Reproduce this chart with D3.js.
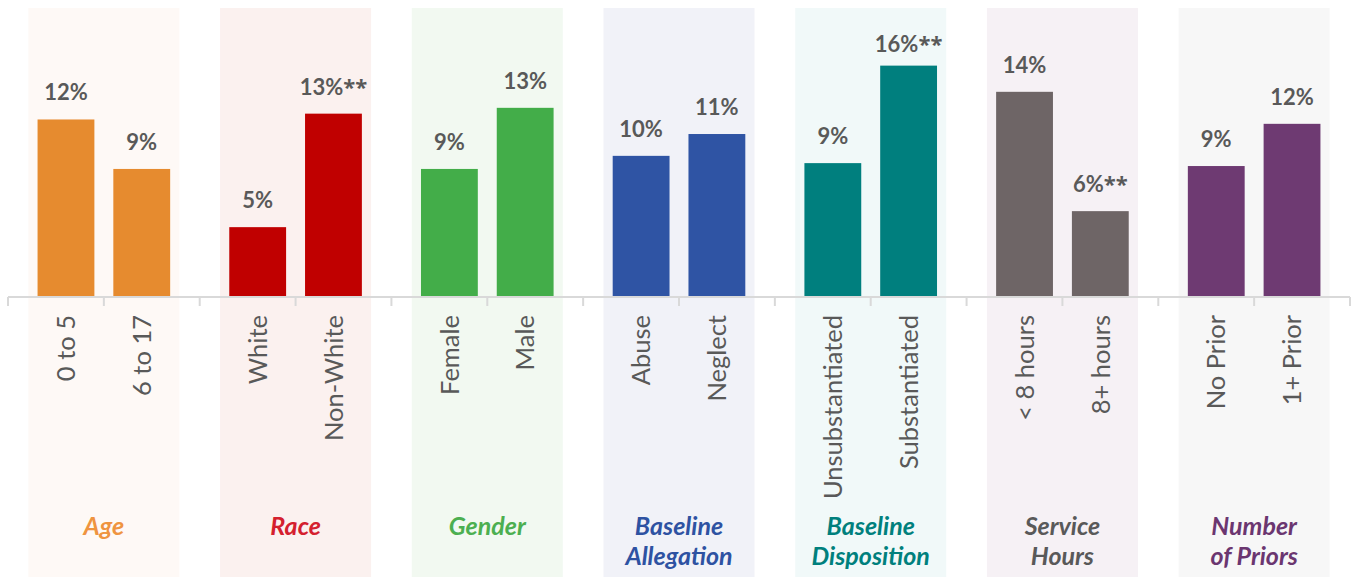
<!DOCTYPE html>
<html>
<head>
<meta charset="utf-8">
<script src="https://cdn.jsdelivr.net/npm/d3@7"></script>
<style>
  html, body { margin: 0; padding: 0; background: #ffffff; }
  svg { display: block; }
</style>
</head>
<body>
<svg id="chart" width="1351" height="577"></svg>
<script>
// ---- data ----
const groups = ["Age", "Race", "Gender", "Baseline Allegation", "Baseline Disposition", "Service Hours", "Number of Priors"];
const groupTitleLines = [["Age"], ["Race"], ["Gender"], ["Baseline", "Allegation"], ["Baseline", "Disposition"], ["Service", "Hours"], ["Number", "of Priors"]];
const categories = ["0 to 5", "6 to 17", "White", "Non-White", "Female", "Male", "Abuse", "Neglect",
                    "Unsubstantiated", "Substantiated", "< 8 hours", "8+ hours", "No Prior", "1+ Prior"];
const categoryGroup = [0, 0, 1, 1, 2, 2, 3, 3, 4, 4, 5, 5, 6, 6];
const values = [12.2, 8.8, 4.8, 12.6, 8.8, 13.0, 9.7, 11.2, 9.2, 15.9, 14.1, 5.9, 9.0, 11.9];
const valueLabels = ["12%", "9%", "5%", "13%**", "9%", "13%", "10%", "11%", "9%", "16%**", "14%", "6%**", "9%", "12%"];

// ---- styles ----
const barColors   = ["#E68B2F", "#C00000", "#43AD49", "#2F54A4", "#007F7E", "#6E6566", "#6E3A72"];
const titleColors = ["#EF9440", "#D4202E", "#4CAF50", "#2E52A2", "#00807D", "#595959", "#6B3670"];
const panelColors = ["#FEF9F6", "#FBF1EF", "#F2F9F1", "#F1F2F8", "#F1F9F9", "#F6F1F5", "#F7F7F7"];
const textGray = "#595959";
const FONT = "Lato, 'Open Sans', 'Noto Sans', sans-serif";

const svg = d3.select("#chart");
const W = 1351, H = 577;

const x0 = d3.scaleBand().domain(d3.range(groups.length)).range([8, 1350]).padding(0);
const x1 = d3.scaleBand().domain([0, 1]).range([0, x0.bandwidth()]).paddingInner(0.25).paddingOuter(0.39);
const y = d3.scaleLinear().domain([0, 19.86]).range([297, 8]);

const rows = categories.map((c, i) => ({
  cat: c, g: categoryGroup[i],
  k: categoryGroup.slice(0, i).filter(v => v === categoryGroup[i]).length,
  v: values[i], lab: valueLabels[i]
}));
const xc = d => x0(d.g) + x1(d.k) + x1.bandwidth() / 2;

// background panels
const panelW = 151;
svg.append("g").selectAll("rect").data(groups).join("rect")
  .attr("x", (d, i) => x0(i) + x0.bandwidth() / 2 - panelW / 2)
  .attr("y", 8)
  .attr("width", panelW)
  .attr("height", H - 8)
  .attr("fill", (d, i) => panelColors[i]);

// bars
svg.append("g").selectAll("rect").data(rows).join("rect")
  .attr("x", d => x0(d.g) + x1(d.k))
  .attr("y", d => y(d.v))
  .attr("width", x1.bandwidth())
  .attr("height", d => y(0) - y(d.v))
  .attr("fill", d => barColors[d.g]);

// value labels (asterisks drawn in a font with larger asterisk glyphs)
const vl = svg.append("g").selectAll("text").data(rows).join("text")
  .attr("x", d => xc(d))
  .attr("y", d => Math.max(y(d.v) - 19, 52))
  .attr("text-anchor", "middle")
  .attr("font-family", FONT)
  .attr("font-weight", 700)
  .attr("font-size", 22)
  .attr("fill", textGray);
vl.append("tspan").text(d => d.lab.replace(/\*+$/, ""));
vl.filter(d => /\*/.test(d.lab)).append("tspan")
  .attr("font-family", "'Open Sans', 'Noto Sans', sans-serif")
  .attr("font-size", 22)
  .text(d => d.lab.match(/\*+$/)[0]);

// x axis line + ticks
const axisG = svg.append("g");
axisG.append("line")
  .attr("x1", x0.range()[0]).attr("x2", x0.range()[1])
  .attr("y1", y(0)).attr("y2", y(0))
  .attr("stroke", "#D9D9D9").attr("stroke-width", 2);
const tickXs = [];
groups.forEach((g, i) => { tickXs.push(x0(i)); tickXs.push(x0(i) + x0.bandwidth() / 2); });
tickXs.push(x0.range()[1]);
axisG.selectAll("line.tick").data(tickXs).join("line")
  .attr("class", "tick")
  .attr("x1", d => d).attr("x2", d => d)
  .attr("y1", y(0)).attr("y2", y(0) + 9)
  .attr("stroke", "#D9D9D9").attr("stroke-width", 2);

// category labels (rotated)
svg.append("g").selectAll("text").data(rows).join("text")
  .attr("transform", d => `translate(${xc(d)},${y(0) + 18}) rotate(-90)`)
  .attr("text-anchor", "end")
  .attr("dy", "0.36em")
  .attr("font-family", FONT)
  .attr("font-size", 25.5)
  .attr("fill", textGray)
  .text(d => d.cat);

// group titles
const tg = svg.append("g").selectAll("text").data(groupTitleLines).join("text")
  .attr("text-anchor", "middle")
  .attr("font-family", FONT)
  .attr("font-weight", 700)
  .attr("font-style", "italic")
  .attr("font-size", 25)
  .attr("fill", (d, i) => titleColors[i]);
tg.selectAll("tspan").data((d, i) => d.map(t => ({ t, i }))).join("tspan")
  .attr("x", d => x0(d.i) + x0.bandwidth() / 2)
  .attr("y", (d, j) => 535 + j * 29.5)
  .text(d => d.t);
</script>
</body>
</html>
